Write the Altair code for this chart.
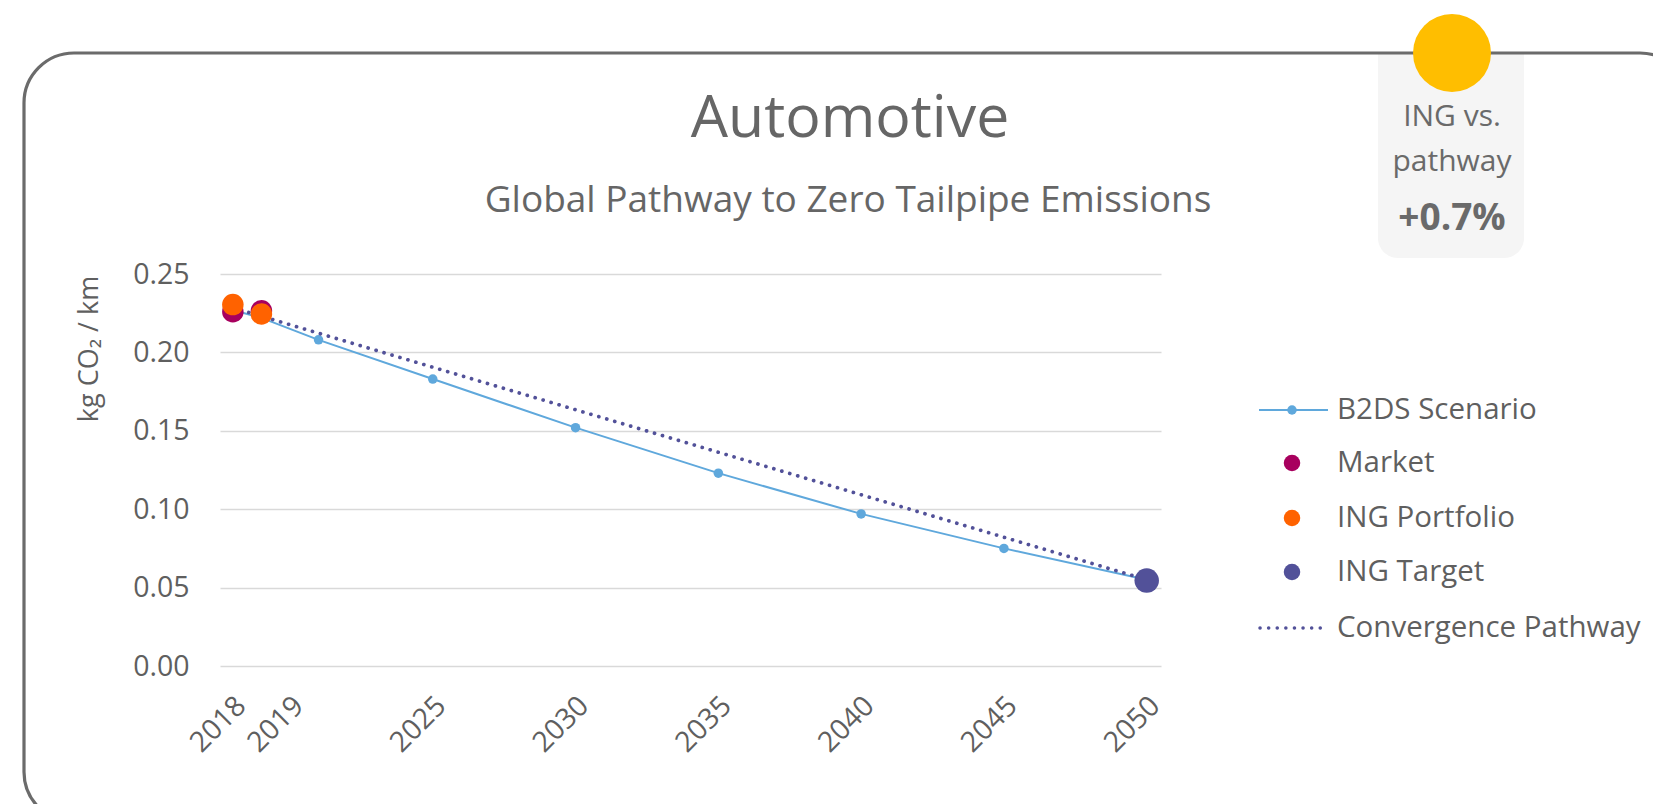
import altair as alt
import pandas as pd

# ---------------- data ----------------
B2DS_YEARS = [2018, 2019, 2021, 2025, 2030, 2035, 2040, 2045, 2050]
B2DS_VALUES = [0.227, 0.222, 0.208, 0.183, 0.152, 0.123, 0.097, 0.075, 0.055]
MARKET_YEARS = [2018, 2019]
MARKET_VALUES = [0.226, 0.2265]
PORTFOLIO_YEARS = [2018, 2019]
PORTFOLIO_VALUES = [0.2305, 0.2245]
TARGET_YEARS = [2050]
TARGET_VALUES = [0.0545]
PATHWAY_YEARS = [2018, 2050]
PATHWAY_VALUES = [0.2285, 0.055]
X_TICKS = [2018, 2019, 2025, 2030, 2035, 2040, 2045, 2050]
Y_TICKS = [0.0, 0.05, 0.10, 0.15, 0.20, 0.25]

TITLE = "Automotive"
SUBTITLE = "Global Pathway to Zero Tailpipe Emissions"
Y_TITLE = "kg CO\u2082 / km"
LEGEND_LABELS = ["B2DS Scenario", "Market", "ING Portfolio", "ING Target", "Convergence Pathway"]
BADGE_LINES = ["ING vs.", "pathway"]
BADGE_VALUE = "+0.7%"

C_B2DS = "#5FA8DC"
C_MARKET = "#A8005E"
C_PORT = "#FF6200"
C_TARGET = "#525199"
C_PATH = "#525199"
C_TEXT = "#5f5f5f"
C_FRAME = "#6b6b6b"

TOTAL_W, TOTAL_H = 1645, 796
W, H = 941, 392
PAD = {"left": 212, "top": 266, "right": TOTAL_W - 212 - W, "bottom": TOTAL_H - 266 - H}

XDOM = [2017.55, 2050.5]
YDOM = [0, 0.25]

X_AXIS = alt.Axis(values=X_TICKS, format="d", labelAngle=315, labelAlign="right",
                  labelBaseline="top", labelPadding=25, labelFont="Open Sans",
                  labelFontSize=28.5, labelColor=C_TEXT, ticks=False, domain=False,
                  labelOffset={"condition": {"test": "datum.value == 2019", "value": 27}, "value": -2},
                  grid=False, title=None, labelOverlap=False)
Y_AXIS = alt.Axis(values=Y_TICKS, format=".2f", labelFont="Open Sans", labelFontSize=28.5,
                  labelColor=C_TEXT, labelPadding=31, ticks=False, domain=False,
                  grid=True, gridColor="#d9d9d9", gridWidth=1.5, title=None)


def xenc():
    return alt.X("year:Q", scale=alt.Scale(domain=XDOM, nice=False, zero=False), axis=X_AXIS)


def yenc():
    return alt.Y("value:Q", scale=alt.Scale(domain=YDOM, nice=False, zero=True), axis=Y_AXIS)


def df(years, values):
    return pd.DataFrame({"year": years, "value": values})


one = pd.DataFrame({"a": [0]})
ox, oy = 220, 274  # plot origin on page


def px(x):
    return alt.value(x - ox)


def py(y):
    return alt.value(y - oy)


def dsize(d):
    # Vega circle symbol: diameter = sqrt(size)
    return d * d


# ---------------- decoration ----------------
badge = alt.Chart(one).mark_rect(
    color="#f5f5f5", cornerRadiusBottomLeft=20, cornerRadiusBottomRight=20
).encode(x=px(1378), x2=px(1524), y=py(53), y2=py(258))

frame = alt.Chart(one).mark_rect(
    fillOpacity=0, stroke=C_FRAME, strokeWidth=3.2, cornerRadius=50
).encode(x=px(24), x2=px(1690), y=py(53), y2=py(822))

sun = alt.Chart(one).mark_point(
    shape="circle", filled=True, opacity=1, color="#FFBE00", size=dsize(78)
).encode(x=px(1452), y=py(53))

BADGE_FONT = "Open Sans"
badge_t1 = alt.Chart(pd.DataFrame({"t": [BADGE_LINES[0]]})).mark_text(
    font=BADGE_FONT, fontSize=30, color="#6a6a6a", align="center", baseline="middle"
).encode(text="t:N", x=px(1452), y=py(117))
badge_t2 = alt.Chart(pd.DataFrame({"t": [BADGE_LINES[1]]})).mark_text(
    font=BADGE_FONT, fontSize=30, color="#6a6a6a", align="center", baseline="middle"
).encode(text="t:N", x=px(1452), y=py(162))
badge_v = alt.Chart(pd.DataFrame({"t": [BADGE_VALUE]})).mark_text(
    font=BADGE_FONT, fontSize=37, fontWeight="bold", color="#6a6a6a", align="center", baseline="middle"
).encode(text="t:N", x=px(1452), y=py(219))

title = alt.Chart(pd.DataFrame({"t": [TITLE]})).mark_text(
    font="Open Sans", fontSize=59, color="#666666", align="center", baseline="alphabetic"
).encode(text="t:N", x=px(850), y=py(137))
subtitle = alt.Chart(pd.DataFrame({"t": [SUBTITLE]})).mark_text(
    font="Open Sans", fontSize=37, color="#666666", align="center", baseline="middle"
).encode(text="t:N", x=px(848), y=py(201))
ytitle = alt.Chart(pd.DataFrame({"t": [Y_TITLE]})).mark_text(
    font="Open Sans", fontSize=27, color=C_TEXT, align="center", baseline="middle", angle=270
).encode(text="t:N", x=px(90), y=py(349))

# ---------------- data marks ----------------
b2ds_line = alt.Chart(df(B2DS_YEARS, B2DS_VALUES)).mark_line(
    color=C_B2DS, strokeWidth=2
).encode(x=xenc(), y=yenc())
b2ds_pts = alt.Chart(df(B2DS_YEARS, B2DS_VALUES)).mark_point(
    shape="circle", filled=True, opacity=1, color=C_B2DS, size=dsize(9.5)
).encode(x=xenc(), y=yenc())
pathway = alt.Chart(df(PATHWAY_YEARS, PATHWAY_VALUES)).mark_line(
    color=C_PATH, strokeWidth=3.7, strokeDash=[0.1, 8.2], strokeCap="round"
).encode(x=xenc(), y=yenc())
market = alt.Chart(df(MARKET_YEARS, MARKET_VALUES)).mark_point(
    shape="circle", filled=True, opacity=1, color=C_MARKET, size=dsize(21.5)
).encode(x=xenc(), y=yenc())
portfolio = alt.Chart(df(PORTFOLIO_YEARS, PORTFOLIO_VALUES)).mark_point(
    shape="circle", filled=True, opacity=1, color=C_PORT, size=dsize(21.5)
).encode(x=xenc(), y=yenc())
target = alt.Chart(df(TARGET_YEARS, TARGET_VALUES)).mark_point(
    shape="circle", filled=True, opacity=1, color=C_TARGET, size=dsize(24.5)
).encode(x=xenc(), y=yenc())

# ---------------- legend ----------------
ROWS = [410, 463, 518, 572, 628]
LX0, LX1, LXM, LXT = 1259, 1328, 1292, 1337

leg = []
leg.append(alt.Chart(one).mark_rule(color=C_B2DS, strokeWidth=2).encode(
    x=px(LX0), x2=px(LX1), y=py(ROWS[0])))
leg.append(alt.Chart(one).mark_point(shape="circle", filled=True, opacity=1, color=C_B2DS, size=dsize(9.5)).encode(
    x=px(LXM), y=py(ROWS[0])))
for i, c in zip([1, 2, 3], [C_MARKET, C_PORT, C_TARGET]):
    leg.append(alt.Chart(one).mark_point(shape="circle", filled=True, opacity=1, color=c, size=dsize(16.5)).encode(
        x=px(LXM), y=py(ROWS[i])))
leg.append(alt.Chart(one).mark_rule(color=C_PATH, strokeWidth=3.5, strokeDash=[0.1, 8.5], strokeCap="round").encode(
    x=px(LX0 + 1), x2=px(LX1), y=py(ROWS[4])))
for i, lab in enumerate(LEGEND_LABELS):
    leg.append(alt.Chart(pd.DataFrame({"t": [lab]})).mark_text(
        font="Open Sans", fontSize=29.5, color=C_TEXT, align="left", baseline="middle"
    ).encode(text="t:N", x=px(LXT), y=py(ROWS[i])))

chart = alt.layer(
    badge, frame, sun, badge_t1, badge_t2, badge_v, title, subtitle, ytitle,
    b2ds_line, b2ds_pts, pathway, market, portfolio, target, *leg
).properties(
    width=W, height=H, padding=PAD,
    autosize=alt.AutoSizeParams(type="none"),
    background="white",
).configure_view(strokeWidth=0)

chart.save("out.html", embed_options={"renderer": "svg", "actions": False})
